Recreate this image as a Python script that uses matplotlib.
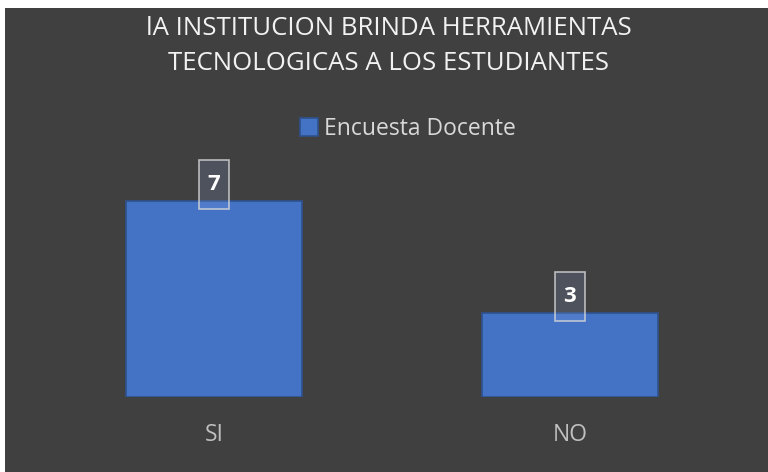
import matplotlib
matplotlib.use("Agg")
import matplotlib.pyplot as plt
from matplotlib.patches import Rectangle

categories = ["SI", "NO"]
values = [7, 3]
series_name = "Encuesta Docente"
title = "lA INSTITUCION BRINDA HERRAMIENTAS\nTECNOLOGICAS A LOS ESTUDIANTES"

FONT = ["Open Sans", "DejaVu Sans"]
W, H = 768, 472
fig = plt.figure(figsize=(W / 100, H / 100), dpi=100, facecolor="white")
bg = "#404040"
fig.patches.append(Rectangle((5 / W, 0), 1 - 5 / W, 1 - 8 / H, transform=fig.transFigure,
                             facecolor=bg, edgecolor="none", zorder=-10))

# axes: x from 36 to 748 px, y baseline 397 px, unit 28 px, ylim 0..8
AX_W_PX, AX_H_PX = 712, 8 * 28
ax = fig.add_axes([36 / W, (H - 397) / H, AX_W_PX / W, AX_H_PX / H], zorder=1)
ax.set_facecolor("none")
x = list(range(len(categories)))
bars = ax.bar(x, values, width=0.494, color="#4472c4", edgecolor="#2f528f", linewidth=1.2,
              label=series_name)
ax.set_xlim(-0.5, len(categories) - 0.5)
ax.set_ylim(0, 8)
ax.set_yticks([])
ax.set_xticks(x)
ax.set_xticklabels(categories, fontsize=16.5, color="#bfbfbf", family=FONT)
ax.tick_params(axis="x", length=0, pad=19)
for s in ax.spines.values():
    s.set_visible(False)

# data label boxes (sizes in pixels, converted to data units)
px_x = (len(categories)) / AX_W_PX
px_y = 8 / AX_H_PX
box_w, box_h, box_below = 30, 49, 8
for xi, v in zip(x, values):
    ax.add_patch(Rectangle((xi - box_w / 2 * px_x, v - box_below * px_y), box_w * px_x, box_h * px_y,
                           facecolor=(0.6, 0.7, 0.95, 0.16), edgecolor=(0.85, 0.85, 0.85, 0.8),
                           linewidth=1.2, zorder=3, clip_on=False))
    ax.annotate(str(v), (xi, v), xytext=(0, 12), textcoords="offset points",
                ha="center", va="center", fontsize=16, fontweight="bold", color="white",
                family=FONT, zorder=4, annotation_clip=False)

fig.text(389 / W, 1 - 46 / H, title, ha="center", va="center", fontsize=18.5, color="#f2f2f2",
         family=FONT, linespacing=1.55)

leg = fig.legend(handles=[bars], labels=[series_name], loc="center", bbox_to_anchor=(408 / W, 1 - 129 / H),
                 frameon=False, handlelength=0.78, handleheight=0.78, handletextpad=0.3,
                 prop={"family": FONT, "size": 16.5})
for t in leg.get_texts():
    t.set_color("#d9d9d9")

fig.savefig("out.png", dpi=100, facecolor="white")
